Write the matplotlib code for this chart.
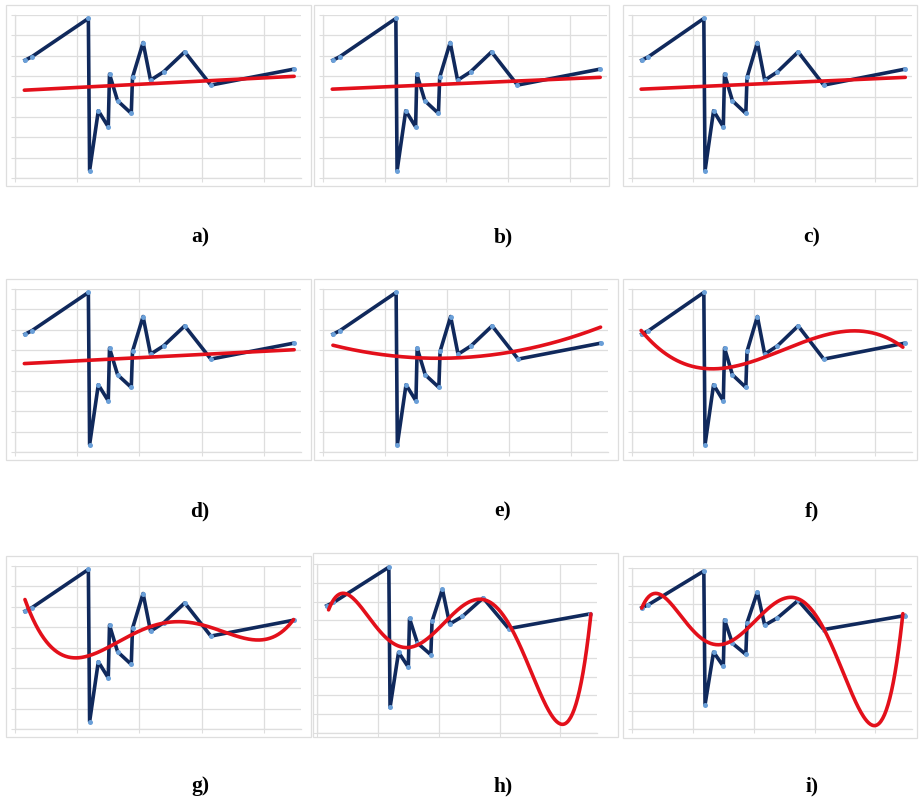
import numpy as np
import matplotlib
matplotlib.use("Agg")
import matplotlib.pyplot as plt
from matplotlib.patches import Rectangle

# Measured series (same in every panel)
x_data = [1.6, 2.7, 11.8, 12.0, 13.4, 15.0, 15.2, 16.5, 18.7, 18.9,
          20.6, 21.8, 23.9, 27.3, 31.5, 44.8]
y_data = [57.8, 59.5, 78.3, 3.6, 33.0, 25.1, 51.0, 37.9, 31.7, 49.4,
          66.5, 48.0, 52.1, 61.9, 45.6, 53.4]

# Trend curves: points along each fitted curve and its polynomial order
labels = ["a)", "b)", "c)", "d)", "e)", "f)", "g)", "h)", "i)"]
trend_x = {
    "a)": [1.5, 44.9],
    "b)": [1.5, 44.9],
    "c)": [1.5, 44.9],
    "d)": [1.5, 44.9],
    "e)": [1.6, 17.3, 28.5, 44.8],
    "f)": [1.5, 13.1, 19.5, 29.2, 35.6, 44.5],
    "g)": [1.6, 9.9, 19.1, 26.1, 32.0, 40.1, 44.8],
    "h)": [1.9, 4.4, 14.7, 26.1, 32.2, 40.4, 45.0],
    "i)": [1.6, 3.4, 15.3, 26.0, 31.4, 40.0, 44.5],
}
trend_y = {
    "a)": [43.1, 49.9],
    "b)": [43.6, 49.4],
    "c)": [43.6, 49.4],
    "d)": [43.4, 50.2],
    "e)": [52.7, 44.9, 49.3, 61.0],
    "f)": [59.7, 40.5, 44.5, 55.1, 59.2, 51.5],
    "g)": [63.6, 34.7, 47.0, 53.0, 48.6, 44.5, 53.5],
    "h)": [55.7, 64.2, 35.7, 60.6, 44.6, -5.6, 53.5],
    "i)": [58.0, 64.9, 38.3, 62.1, 48.2, -8.7, 54.7],
}
trend_order = {"a)": 1, "b)": 1, "c)": 1, "d)": 1, "e)": 2,
               "f)": 3, "g)": 4, "h)": 5, "i)": 5}
y_bottom = {"h)": -10, "i)": -10}

W, H = 919, 799

# pixel boxes: outer frame (x0, y0, x1, y1) and plot area (x0, y0, x1, y1)
frames = {
    "a)": ((6, 5, 311, 186), (15, 15, 301, 178)),
    "b)": ((314, 5, 609, 186), (323, 15, 607, 178)),
    "c)": ((623, 5, 917, 186), (632, 15, 912, 178)),
    "d)": ((6, 279, 311, 460), (15, 289, 301, 452)),
    "e)": ((314, 279, 618, 460), (323, 289, 608, 452)),
    "f)": ((623, 279, 917, 460), (632, 289, 912, 452)),
    "g)": ((6, 556, 311, 737), (15, 566, 301, 729)),
    "h)": ((313, 553, 618, 737), (317, 564, 597, 733)),
    "i)": ((623, 556, 917, 738), (632, 568, 912, 729)),
}
caption_pos = {
    "a)": (200, 237), "b)": (503, 237), "c)": (812, 237),
    "d)": (200, 511), "e)": (503, 511), "f)": (812, 511),
    "g)": (200, 786), "h)": (503, 786), "i)": (812, 786),
}

NAVY = "#10295c"
MARK = "#6a9fd8"
RED = "#e3101b"
GRID = "#dedede"

fig = plt.figure(figsize=(W / 100, H / 100), dpi=100)
fig.patch.set_facecolor("white")


def fig_box(x0, y0, x1, y1):
    return [x0 / W, 1 - y1 / H, (x1 - x0) / W, (y1 - y0) / H]


for lab in labels:
    outer, inner = frames[lab]
    l, b, w, h = fig_box(*outer)
    fig.add_artist(Rectangle((l, b), w, h, transform=fig.transFigure,
                             fill=False, ec=GRID, lw=0.9))

    ax = fig.add_axes(fig_box(*inner))
    ymin = y_bottom.get(lab, 0)
    ax.set_xlim(0, 46)
    ax.set_ylim(ymin, 80)
    ax.set_xticks([0, 10, 20, 30, 40])
    ax.set_yticks(np.arange(ymin, 81, 10))
    ax.grid(True, color=GRID, lw=0.9)
    ax.set_axisbelow(True)
    for s in ("top", "right"):
        ax.spines[s].set_visible(False)
    for s in ("left", "bottom"):
        ax.spines[s].set_color(GRID)
        ax.spines[s].set_linewidth(0.9)
    ax.tick_params(length=3, color=GRID, labelleft=False, labelbottom=False)
    ax.patch.set_alpha(0)

    ax.plot(x_data, y_data, color=NAVY, lw=2.6, marker="o", ms=3.6,
            mfc=MARK, mec="none", solid_joinstyle="round", zorder=3)

    tx, ty = trend_x[lab], trend_y[lab]
    coef = np.polyfit(tx, ty, trend_order[lab])
    xs = np.linspace(tx[0], tx[-1], 300)
    ax.plot(xs, np.polyval(coef, xs), color=RED, lw=2.6,
            solid_capstyle="round", zorder=4)

    cx, cy = caption_pos[lab]
    fig.text(cx / W, 1 - cy / H, lab, ha="center", va="center",
             fontsize=15.5, fontweight="bold", family="Liberation Serif")

fig.savefig("out.png", dpi=100, facecolor="white")
